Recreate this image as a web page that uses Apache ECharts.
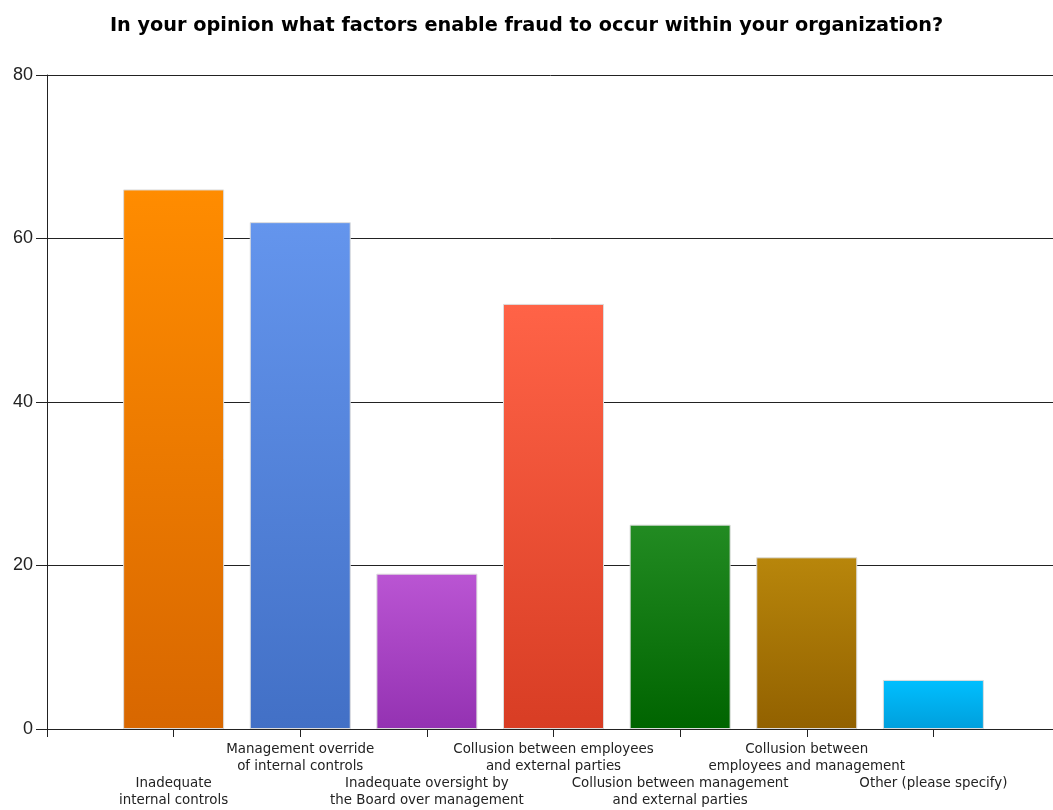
<!DOCTYPE html>
<html><head><meta charset="utf-8">
<script src="https://cdn.jsdelivr.net/npm/echarts@6/dist/echarts.min.js"></script>
<style>html,body{margin:0;padding:0;background:#fff}#c{width:1053px;height:810px}</style>
</head><body><div id="c"></div>
<script>
const categories = [
  "Inadequate\ninternal controls",
  "Management override\nof internal controls",
  "Inadequate oversight by\nthe Board over management",
  "Collusion between employees\nand external parties",
  "Collusion between management\nand external parties",
  "Collusion between\nemployees and management",
  "Other (please specify)"
];
const values = [66, 62, 19, 52, 25, 21, 6];
const topColors = ["#FF8C00", "#6495ED", "#BA55D3", "#FF6347", "#228B22", "#B8860B", "#00BFFF"];
const bottomColors = ["#D86700", "#4270C6", "#9432B2", "#D83D24", "#006400", "#926100", "#009FDC"];
const yTicks = [0, 20, 40, 60, 80];

const chart = echarts.init(document.getElementById('c'));
const data = values.map((v, i) => ({
  value: [i + 1, v],
  itemStyle: {
    color: new echarts.graphic.LinearGradient(0, 0, 0, 1, [
      {offset: 0, color: topColors[i]}, {offset: 1, color: bottomColors[i]}
    ]),
    borderColor: '#dcdcdc', borderWidth: 1
  }
}));
chart.setOption({
  animation: false,
  backgroundColor: '#fff',
  title: {
    text: 'In your opinion what factors enable fraud to occur within your organization?',
    left: 'center', top: 11,
    textStyle: {fontFamily: 'DejaVu Sans', fontWeight: 'bold', fontSize: 19.3, color: '#000'}
  },
  grid: {left: 47, right: -7, top: 75, bottom: 81, containLabel: false, outerBoundsMode: 'none'},
  xAxis: {
    type: 'value', min: 0, max: 8, interval: 1,
    splitLine: {show: false},
    axisLine: {show: true, lineStyle: {color: '#222', width: 1}},
    axisTick: {show: true, length: 8, lineStyle: {color: '#222'}},
    axisLabel: {
      margin: 12,
      fontFamily: 'DejaVu Sans', fontSize: 13.4, color: '#222', lineHeight: 17,
      formatter: function (v) {
        const i = Math.round(v) - 1;
        if (i < 0 || i >= categories.length) return '';
        return (i % 2 === 0) ? '\n\n' + categories[i] : categories[i];
      }
    }
  },
  yAxis: {
    type: 'value', min: yTicks[0], max: yTicks[yTicks.length - 1], interval: 20,
    axisLine: {show: true, lineStyle: {color: '#222', width: 1}},
    axisTick: {show: true, length: 11, lineStyle: {color: '#222'}},
    splitLine: {show: true, lineStyle: {color: '#222', width: 1}},
    axisLabel: {fontFamily: 'Liberation Sans', fontSize: 18, color: '#222', margin: 14}
  },
  series: [{
    type: 'bar', data: data, barWidth: 101
  }]
});
</script></body></html>
